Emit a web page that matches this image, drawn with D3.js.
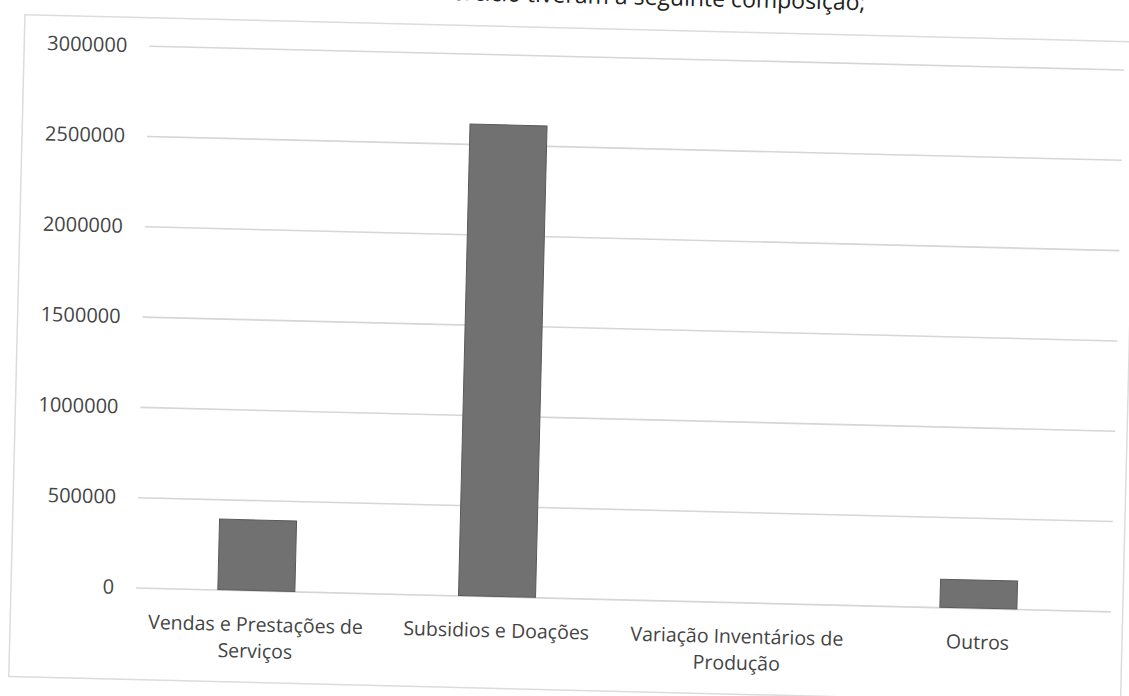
<!DOCTYPE html>
<html>
<head>
<meta charset="utf-8">
<script src="https://cdn.jsdelivr.net/npm/d3@7"></script>
<style>
  html, body { margin: 0; padding: 0; background: #ffffff; }
  svg { display: block; }
</style>
</head>
<body>
<svg id="chart" width="1129" height="696"></svg>
<script>
// ---- data ----
const categories = [
  "Vendas e Prestações de Serviços",
  "Subsidios e Doações",
  "Variação Inventários de Produção",
  "Outros"
];
const values = [390000, 2610000, 0, 155000];
const yTicks = [0, 500000, 1000000, 1500000, 2000000, 2500000, 3000000];
const headerText = "Os rendimentos do exercício tiveram a seguinte composição;";

// ---- layout ----
const plotLeft = 136, plotRight = 1099, gridRight = 1111;
const plotTop = 46, plotBottom = 588;
const tilt = 1.4;               // the scanned page is slightly rotated
const font = "'Open Sans', 'Liberation Sans', Arial, sans-serif";
const textColor = "#444444";

const svg = d3.select("#chart");
const g = svg.append("g").attr("transform", `rotate(${tilt}, 155, ${plotBottom})`);

// outer chart border
g.append("rect")
  .attr("x", 11).attr("y", 18)
  .attr("width", 1112).attr("height", 662)
  .attr("fill", "none")
  .attr("stroke", "#dcdcdc")
  .attr("stroke-width", 1.5);

// line of document text above the chart, cut by the page edge as in the scan
g.append("text")
  .attr("x", 851).attr("y", -7)
  .attr("text-anchor", "end")
  .attr("font-family", font)
  .attr("font-size", 23)
  .attr("fill", "#222")
  .text(headerText);

const x = d3.scaleBand()
  .domain(categories)
  .range([plotLeft, plotRight])
  .paddingInner(0.68)
  .paddingOuter(0.34);

const y = d3.scaleLinear()
  .domain([0, 3000000])
  .range([plotBottom, plotTop]);

// gridlines
const grid = g.append("g")
  .attr("transform", `translate(${plotLeft},0)`)
  .call(d3.axisLeft(y).tickValues(yTicks).tickSize(-(gridRight - plotLeft)).tickFormat(""));
grid.select(".domain").remove();
grid.selectAll(".tick line")
  .attr("stroke", "#d6d6d6")
  .attr("stroke-width", 1.6);

// y tick labels
const yAxis = g.append("g")
  .attr("transform", `translate(${plotLeft},0)`)
  .call(d3.axisLeft(y).tickValues(yTicks).tickSize(0).tickPadding(22).tickFormat(d3.format("d")));
yAxis.select(".domain").remove();
yAxis.selectAll("text")
  .attr("font-family", font)
  .attr("font-size", 20)
  .attr("fill", textColor);

// bars
g.append("g").selectAll("rect")
  .data(values)
  .join("rect")
  .attr("x", (d, i) => x(categories[i]))
  .attr("y", d => y(d))
  .attr("width", x.bandwidth())
  .attr("height", d => y(0) - y(d))
  .attr("fill", "#717171")
  .attr("stroke", "#5a5a5a")
  .attr("stroke-width", 1);

// category axis
const xAxis = g.append("g")
  .attr("transform", `translate(0,${plotBottom})`)
  .call(d3.axisBottom(x).tickSize(0).tickPadding(0));
xAxis.select(".domain").remove();
xAxis.selectAll(".tick text")
  .attr("font-family", font)
  .attr("font-size", 19.5)
  .attr("fill", textColor)
  .each(function(d) {
    const t = d3.select(this);
    const words = d.split(" ");
    const maxW = x.step();
    t.text(null).attr("y", 0).attr("dy", null);
    let line = [];
    let lineNo = 0;
    let tspan = t.append("tspan").attr("x", 0).attr("y", 41);
    for (const w of words) {
      line.push(w);
      tspan.text(line.join(" "));
      if (tspan.node().getComputedTextLength() > maxW && line.length > 1) {
        line.pop();
        tspan.text(line.join(" "));
        line = [w];
        lineNo++;
        tspan = t.append("tspan").attr("x", 0).attr("y", 41 + lineNo * 26.5).text(w);
      }
    }
  });
</script>
</body>
</html>
